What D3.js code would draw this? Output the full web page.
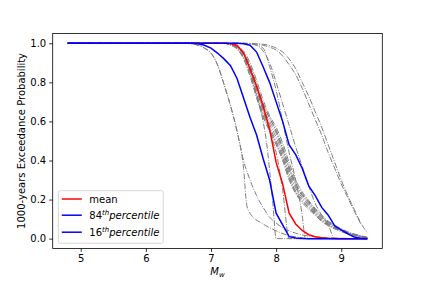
<!DOCTYPE html>
<html>
<head>
<meta charset="utf-8">
<script src="https://cdn.jsdelivr.net/npm/d3@7"></script>
<style>
  body { margin: 0; background: #fff; }
  text { font-family: "DejaVu Sans", sans-serif; }
</style>
</head>
<body>
<div id="chart"></div>
<script>
// ---- data: [Mw, probability] ----
var meanCurve = [[4.8,1],[7.2,1],[7.3,0.998],[7.4,0.99],[7.5,0.95],[7.6,0.87],[7.7,0.78],[7.8,0.68],
  [7.9,0.56],[8.0,0.39],[8.1,0.28],[8.2,0.13],[8.3,0.075],[8.4,0.042],[8.5,0.02],[8.6,0.01],
  [8.7,0.005],[8.8,0.002],[8.9,0.001],[9.0,0],[9.4,0]];
var p84Curve = [[4.8,1],[7.4,1],[7.5,0.998],[7.6,0.99],[7.7,0.955],[7.8,0.88],[7.9,0.80],[8.0,0.70],
  [8.1,0.60],[8.2,0.48],[8.3,0.43],[8.4,0.36],[8.5,0.27],[8.6,0.22],[8.7,0.16],[8.8,0.12],
  [8.9,0.065],[9.0,0.045],[9.1,0.025],[9.2,0.008],[9.3,0.002],[9.4,0]];
var p16Curve = [[4.8,1],[6.7,1],[6.8,0.998],[6.9,0.99],[7.0,0.975],[7.1,0.95],[7.2,0.92],[7.3,0.885],
  [7.4,0.82],[7.5,0.72],[7.6,0.62],[7.7,0.53],[7.8,0.41],[7.9,0.30],[8.0,0.13],[8.1,0.07],
  [8.2,0.01],[8.3,0.003],[8.4,0.001],[8.5,0],[9.4,0]];

// individual branch curves (grey dash-dot)
var branchA = [[4.8,1],[6.6,1],[6.7,0.997],[6.8,0.99],[6.9,0.975],[7.0,0.95],[7.1,0.89],[7.2,0.79],
  [7.3,0.68],[7.4,0.55],[7.5,0.40],[7.6,0.30],[7.7,0.22],[7.8,0.16],[7.9,0.11],[8.0,0.08],
  [8.1,0.055],[8.2,0.04],[8.3,0.028],[8.4,0.019],[8.5,0.013],[8.6,0.009],[8.8,0.004],[9.0,0.002],[9.4,0]];
var branchL = [[4.8,1],[6.6,1],[6.7,0.997],[6.8,0.99],[6.9,0.975],[7.0,0.95],[7.1,0.89],[7.2,0.79],
  [7.3,0.68],[7.4,0.55],[7.5,0.36],[7.55,0.17],[7.6,0.13],[7.8,0.075],[8.0,0.04],[8.2,0.015],
  [8.4,0.005],[8.6,0],[9.4,0]];
var bandM = [7.2,7.3,7.4,7.5,7.6,7.7,7.8,7.9,8.0,8.1,8.2,8.3,8.4,8.5,8.6,8.7,8.8,8.9,9.0,9.1,9.2,9.3,9.4];
var band0 = [1,0.995,0.98,0.945,0.87,0.77,0.67,0.60,0.54,0.45,0.35,0.27,0.22,0.18,0.14,0.105,0.08,0.06,0.045,0.03,0.02,0.012,0.005];
var band1 = [1,0.997,0.985,0.96,0.90,0.81,0.71,0.63,0.57,0.49,0.39,0.30,0.24,0.195,0.155,0.12,0.09,0.068,0.05,0.035,0.024,0.015,0.007];
var band2 = [1,0.993,0.975,0.93,0.85,0.74,0.64,0.57,0.50,0.42,0.32,0.245,0.20,0.165,0.13,0.095,0.072,0.054,0.04,0.027,0.018,0.01,0.004];
var band3 = [1,0.99,0.97,0.92,0.83,0.72,0.62,0.55,0.48,0.40,0.30,0.23,0.185,0.15,0.12,0.088,0.066,0.05,0.036,0.024,0.016,0.009,0.003];
var band4 = [1,0.996,0.985,0.95,0.88,0.78,0.69,0.62,0.55,0.46,0.36,0.28,0.225,0.185,0.145,0.11,0.085,0.063,0.047,0.032,0.021,0.013,0.006];
var band5 = [1,0.994,0.978,0.94,0.86,0.76,0.655,0.585,0.52,0.435,0.335,0.258,0.21,0.172,0.135,0.1,0.076,0.057,0.042,0.028,0.019,0.011,0.005];
var band6 = [1,0.996,0.982,0.95,0.885,0.79,0.69,0.615,0.555,0.47,0.37,0.285,0.23,0.19,0.15,0.113,0.085,0.064,0.048,0.033,0.022,0.013,0.006];
var band7 = [1,0.992,0.972,0.925,0.84,0.73,0.63,0.56,0.49,0.41,0.31,0.238,0.192,0.158,0.125,0.092,0.069,0.052,0.038,0.026,0.017,0.01,0.004];
var branchT1 = [[4.8,1],[7.2,1],[7.3,0.995],[7.4,0.98],[7.5,0.94],[7.6,0.86],[7.7,0.74],[7.8,0.60],
  [7.85,0.50],[7.9,0.35],[7.95,0.18],[8.0,0],[9.4,0]];
var branchT2 = [[4.8,1],[7.2,1],[7.4,0.985],[7.5,0.95],[7.6,0.88],[7.7,0.78],[7.8,0.66],[7.9,0.55],
  [8.0,0.44],[8.1,0.25],[8.2,0],[9.4,0]];
var branchG = [[4.8,1],[7.4,1],[7.6,0.998],[7.7,0.99],[7.8,0.975],[7.9,0.88],[8.0,0.76],[8.1,0.60],
  [8.2,0.44],[8.3,0.30],[8.4,0.12],[8.45,0],[9.4,0]];
var branchH = [[4.8,1],[7.5,1],[7.7,0.99],[7.8,0.96],[7.9,0.90],[8.0,0.80],[8.1,0.69],[8.2,0.58],
  [8.3,0.47],[8.4,0.37],[8.5,0.27],[8.6,0.18],[8.7,0.12],[8.8,0.07],[8.9,0],[9.4,0]];
var branchR1 = [[4.8,1],[7.4,1],[7.6,0.998],[7.8,0.99],[7.9,0.98],[8.0,0.965],[8.1,0.935],[8.2,0.89],
  [8.3,0.84],[8.4,0.77],[8.5,0.69],[8.6,0.61],[8.7,0.53],[8.8,0.44],[8.9,0.36],[9.0,0.28],
  [9.1,0.21],[9.2,0.14],[9.3,0.075]];
var branchR2 = [[4.8,1],[7.5,1],[7.8,0.995],[8.0,0.975],[8.1,0.955],[8.2,0.92],[8.3,0.87],[8.4,0.80],
  [8.5,0.73],[8.6,0.65],[8.7,0.57],[8.8,0.48],[8.9,0.39],[9.0,0.30],[9.1,0.22],[9.2,0.15],
  [9.3,0.08],[9.4,0.03]];

var xTicks = [5, 6, 7, 8, 9];
var yTicks = [0, 0.2, 0.4, 0.6, 0.8, 1.0];
var legendNames = ["mean", "84", "16"];

var width = 425, height = 284;
var plotLeft = 52.7, plotRight = 382.3, plotTop = 33.5, plotBottom = 248.4;

var svg = d3.select("#chart").append("svg")
  .attr("width", width)
  .attr("height", height);

var x = d3.scaleLinear().domain([4.57, 9.63]).range([plotLeft, plotRight]);
var y = d3.scaleLinear().domain([-0.05, 1.05]).range([plotBottom, plotTop]);

// grey branches
var bands = [band0, band1, band2, band3, band4, band5, band6, band7].map(function(vals) {
  return bandM.map(function(m, i) { return [m, vals[i]]; });
});
bands.forEach(function(b) { b.unshift([4.8, 1]); });
var branches = [branchA, branchL, branchT1, branchT2, branchG, branchH, branchR1, branchR2].concat(bands);

var smooth = d3.line()
  .x(d => x(d[0]))
  .y(d => y(d[1]))
  .curve(d3.curveMonotoneX);
var straight = d3.line()
  .x(d => x(d[0]))
  .y(d => y(d[1]));

var plot = svg.append("g");

plot.selectAll(".branch")
  .data(branches)
  .enter()
  .append("path")
  .attr("class", "branch")
  .attr("d", smooth)
  .attr("fill", "none")
  .attr("stroke", "#808080")
  .attr("stroke-width", 1)
  .attr("stroke-dasharray", "5.8,1.5,0.9,1.5");

plot.append("path").datum(meanCurve)
  .attr("d", straight).attr("fill", "none")
  .attr("stroke", "#ff0000").attr("stroke-width", 1.5);
plot.append("path").datum(p84Curve)
  .attr("d", straight).attr("fill", "none")
  .attr("stroke", "#0000ff").attr("stroke-width", 1.5);
plot.append("path").datum(p16Curve)
  .attr("d", straight).attr("fill", "none")
  .attr("stroke", "#0000ff").attr("stroke-width", 1.5);

// axes
svg.append("g")
  .attr("transform", `translate(0, ${plotBottom})`)
  .call(d3.axisBottom(x).tickValues(xTicks).tickSize(3.5).tickPadding(3).tickFormat(d3.format("d")));
svg.append("g")
  .attr("transform", `translate(${plotLeft}, 0)`)
  .call(d3.axisLeft(y).tickValues(yTicks).tickSize(3.5).tickPadding(3).tickFormat(d3.format(".1f")));
svg.selectAll(".domain").remove();
svg.selectAll(".tick text").attr("font-size", 10).attr("fill", "#000")
  .attr("font-family", "DejaVu Sans, sans-serif");
svg.selectAll(".tick line").attr("stroke", "#000").attr("stroke-width", 0.8);

svg.append("rect")
  .attr("x", plotLeft).attr("y", plotTop)
  .attr("width", plotRight - plotLeft).attr("height", plotBottom - plotTop)
  .attr("fill", "none").attr("stroke", "#000").attr("stroke-width", 0.8);

// axis labels
var xl = svg.append("text")
  .attr("x", (plotLeft + plotRight) / 2)
  .attr("y", 275)
  .attr("text-anchor", "middle")
  .attr("font-size", 10);
xl.append("tspan").attr("font-style", "italic").text("M");
xl.append("tspan").attr("font-style", "italic").attr("font-size", 7).attr("dy", 2).text("w");

svg.append("text")
  .attr("transform", `translate(25, ${(plotTop + plotBottom) / 2}) rotate(-90)`)
  .attr("text-anchor", "middle")
  .attr("font-size", 10)
  .text("1000-years Exceedance Probability");

// legend
var legend = svg.append("g").attr("transform", "translate(58.3, 190.7)");
legend.append("rect")
  .attr("width", 105).attr("height", 52.6)
  .attr("rx", 2)
  .attr("fill", "#fff").attr("fill-opacity", 0.8)
  .attr("stroke", "#cccccc").attr("stroke-width", 0.8);
var legendColors = ["#ff0000", "#0000ff", "#0000ff"];
var legendY = [8.3, 24.5, 41.5];
legendNames.forEach(function(name, i) {
  legend.append("line")
    .attr("x1", 3.5).attr("x2", 23.5)
    .attr("y1", legendY[i]).attr("y2", legendY[i])
    .attr("stroke", legendColors[i]).attr("stroke-width", 1.5);
  var t = legend.append("text")
    .attr("x", 31)
    .attr("y", legendY[i] + 3.6)
    .attr("font-size", 10);
  if (i === 0) {
    t.text(name);
  } else {
    t.append("tspan").text(name);
    t.append("tspan").attr("font-style", "italic").attr("font-size", 7).attr("dy", -4).text("th");
    t.append("tspan").attr("font-style", "italic").attr("dy", 4).text("percentile");
  }
});
</script>
</body>
</html>
